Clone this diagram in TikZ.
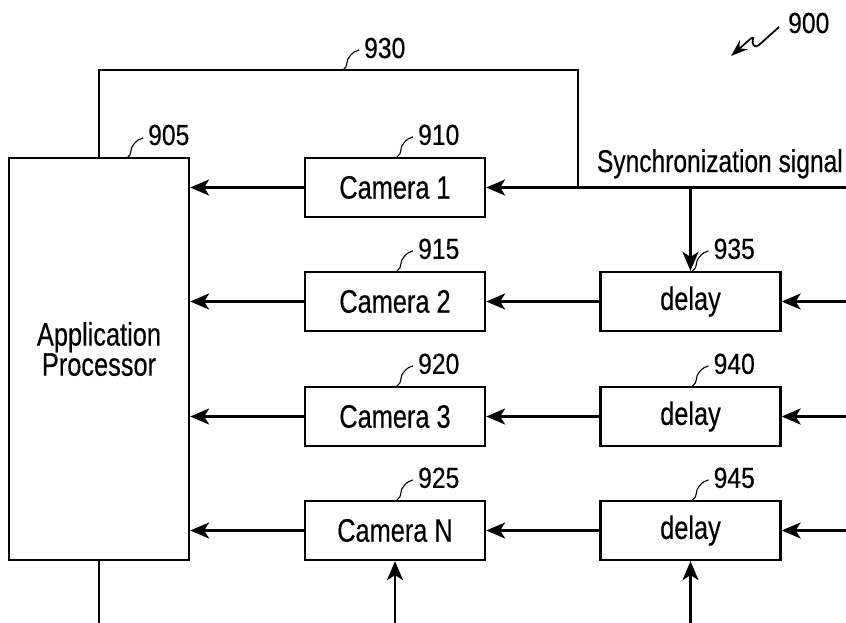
\documentclass[tikz,border=0pt]{standalone}
\usepackage{fontspec}
\setmainfont{Liberation Sans}
\newfontfamily\boxfont{Liberation Sans}[FakeStretch=0.78,FakeBold=0.4]
\newfontfamily\reffont{Liberation Sans}[FakeStretch=0.85,FakeBold=0.4]
\usetikzlibrary{arrows.meta}
\tikzset{
  box/.style={draw,line width=2.3pt,minimum width=180pt,minimum height=59pt,inner sep=0pt,font=\boxfont\fontsize{32.5}{28}\selectfont},
  txt/.style={inner sep=0pt,font=\boxfont\fontsize{32.5}{28}\selectfont},
  lbl/.style={inner sep=0pt,anchor=base west,font=\reffont\fontsize{29}{29}\selectfont},
  wire/.style={line width=2.3pt},
  arr/.style={wire,-{Stealth[length=19pt,width=16pt,inset=5pt]}},
  leaderline/.style={line width=1.1pt},
  refl/.pic={\draw[leaderline] (0,0) .. controls (6,-3) and (2,-10) .. (7,-14) .. controls (10,-18) and (13,-19) .. (16,-20);}
}
\begin{document}
\begin{tikzpicture}[x=1pt,y=-1pt]
\useasboundingbox (0,0) rectangle (846,623);

% application processor
\node[box,minimum height=402pt] (ap) at (99,359) {};
\node[txt,align=center] (aptext) at (99,349) {Application\\Processor};

% cameras
\node[box] (c1) at (395,187.5) {Camera 1};
\node[box] (c2) at (395,301.5) {Camera 2};
\node[box] (c3) at (395,416.5) {Camera 3};
\node[box] (c4) at (395,530.5) {Camera N};

% delays
\node[box] (d2) at (690.5,301.5) {delay};
\node[box] (d3) at (690.5,416.5) {delay};
\node[box] (d4) at (690.5,530.5) {delay};

% free ends
\coordinate (syncin) at (846,187.5);
\coordinate (syncj) at (690.5,187.5);
\coordinate (j930) at (578,187.5);
\coordinate (tl) at (99,70);
\coordinate (tr) at (578,70);
\coordinate (in2) at (846,301.5);
\coordinate (in3) at (846,416.5);
\coordinate (in4) at (846,530.5);
\coordinate (bc) at (395,623);
\coordinate (bd) at (690.5,623);
\coordinate (apout) at (99,623);

% sync signal
\node[txt,anchor=base east,font=\boxfont\fontsize{31.5}{28}\selectfont] (synctext) at (843,172) {Synchronization signal};
\draw[arr] (syncin) -- (c1.east);
\draw[arr] (syncj) -- (d2.north);
\draw[wire] (ap.north -| tl) -- (tl) -- (tr) -- (j930);

% camera outputs
\draw[arr] (c1.west) -- (ap.east |- c1.west);
\draw[arr] (c2.west) -- (ap.east |- c2.west);
\draw[arr] (c3.west) -- (ap.east |- c3.west);
\draw[arr] (c4.west) -- (ap.east |- c4.west);

% delay outputs
\draw[arr] (d2.west) -- (c2.east);
\draw[arr] (d3.west) -- (c3.east);
\draw[arr] (d4.west) -- (c4.east);

% right inputs
\draw[arr] (in2) -- (d2.east);
\draw[arr] (in3) -- (d3.east);
\draw[arr] (in4) -- (d4.east);

% bottom
\draw[arr] (bc) -- (c4.south);
\draw[arr] (bd) -- (d4.south);
\draw[wire] (ap.south -| apout) -- (apout);

% reference labels
\pic at (127,158) {refl};
\node[lbl] (l905) at (148,145) {905};
\pic at (343,70) {refl};
\node[lbl] (l930) at (364,58) {930};
\foreach \n/\t in {c1/910,c2/915,c3/920,c4/925,d2/935,d3/940,d4/945}{
  \pic at ([xshift=2pt]\n.north) {refl};
  \node[lbl] (l\t) at ([xshift=23pt,yshift=12pt]\n.north) {\t};
}
\node[lbl] (l900) at (788,33) {900};
\draw[line width=1.7pt,-{Stealth[length=17pt,width=12pt]}] (779,27) -- (759,45) .. controls (755,49) and (751,44) .. (753,39) .. controls (754,37) and (752,37) .. (748,41) -- (731,56);
\end{tikzpicture}
\end{document}
